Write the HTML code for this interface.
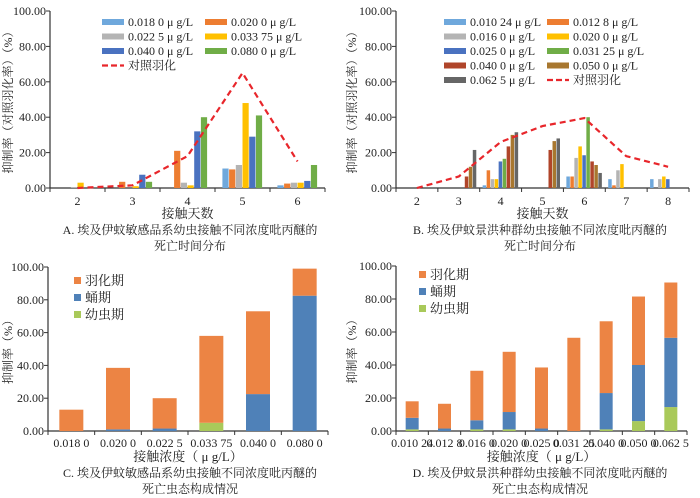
<!DOCTYPE html>
<html><head><meta charset="utf-8">
<style>
html,body{margin:0;padding:0;background:#fff;}
svg{display:block;font-family:"Liberation Serif","Noto Serif CJK SC",serif;}
</style></head>
<body>
<svg id="fig" width="700" height="498" viewBox="0 0 700 498" xmlns="http://www.w3.org/2000/svg"></svg>
<script>
// ---------- Panel A data ----------
const aDays = ["2","3","4","5","6"];
const aSeriesNames = ["0.018 0 μ g/L","0.020 0 μ g/L","0.022 5 μ g/L","0.033 75 μ g/L","0.040 0 μ g/L","0.080 0 μ g/L"];
const aS1 = [0,0,0,11,1.5];
const aS2 = [0,3.5,21,10.5,2.5];
const aS3 = [0.5,0,3,13,3];
const aS4 = [3,1,1.5,48,3];
const aS5 = [0,7.5,32,29,4];
const aS6 = [0,3.5,40,41,13];
const aControl = [0,1.5,18,65,15];
// ---------- Panel B data ----------
const bDays = ["2","3","4","5","6","7","8"];
const bSeriesNames = ["0.010 24 μ g/L","0.012 8 μ g/L","0.016 0 μ g/L","0.020 0 μ g/L","0.025 0 μ g/L","0.031 25 μ g/L","0.040 0 μ g/L","0.050 0 μ g/L","0.062 5 μ g/L"];
const bS1 = [0,0,1.5,0,6.5,5,5];
const bS2 = [0,0,10,0,6.5,1.5,0];
const bS3 = [0,0,5,0,17,10,5];
const bS4 = [0,0,5,0,23.5,13.5,6.5];
const bS5 = [0,0,15,0,18.5,0,5];
const bS6 = [0,0,16.5,0,40,0,0];
const bS7 = [0,6.5,23.5,21.5,15,0,0];
const bS8 = [0,12,30,26.5,13,0,0];
const bS9 = [0,21.5,31.5,28,8.5,0,0];
const bControl = [0,6.5,26,35,39.5,18,12];
// ---------- Panel C data ----------
const cCats = ["0.018 0","0.020 0","0.022 5","0.033 75","0.040 0","0.080 0"];
const cLarva = [0,0,0,5,0,0];
const cPupa = [0,1,1.5,0,22.5,82.5];
const cEclosion = [13,37.5,18.5,53,50.5,16.5];
// ---------- Panel D data ----------
const dCats = ["0.010 24","0.012 8","0.016 0","0.020 0","0.025 0","0.031 25","0.040 0","0.050 0","0.062 5"];
const dLarva = [1,0,1,1,0,0,1,6,14.5];
const dPupa = [7,1.5,5.5,10.5,1.5,0,22,34,42];
const dEclosion = [10,15,30,36.5,37,56.5,43.5,41.5,33.5];
const yTicks = ["0.00","20.00","40.00","60.00","80.00","100.00"];

const svg = document.getElementById('fig');
const NS = "http://www.w3.org/2000/svg";
function mk(tag, attrs, parent){
  const e = document.createElementNS(NS, tag);
  for (const k in attrs) e.setAttribute(k, attrs[k]);
  (parent||svg).appendChild(e);
  return e;
}
function txt(x,y,s,size,anchor,parent){
  const t = mk('text',{x:x,y:y,'font-size':size,'text-anchor':anchor||'middle',fill:'#222'},parent);
  t.textContent = s;
  return t;
}

function axes(g, x0, x1, yTop, yBot, nCats, catLabels, labelY, ylabel, ylabelX, xtitle, xtitleY, cap1, cap2, capX, capY){
  const ys = v => yBot - (yBot - yTop) * v / 100;
  mk('line',{x1:x0,y1:yTop,x2:x0,y2:yBot,stroke:'#333','stroke-width':1.2},g);
  mk('line',{x1:x0,y1:yBot,x2:x1,y2:yBot,stroke:'#333','stroke-width':1.2},g);
  yTicks.forEach((t,i)=>{
    const v = i*20;
    mk('line',{x1:x0-4,y1:ys(v),x2:x0,y2:ys(v),stroke:'#333'},g);
    const tl = txt(x0-4, ys(v)+4, t, 12, 'end', g);
    
    
  });
  const w = (x1-x0)/nCats;
  for (let i=0;i<=nCats;i++){
    mk('line',{x1:x0+i*w,y1:yBot,x2:x0+i*w,y2:yBot+4,stroke:'#333'},g);
  }
  catLabels.forEach((c,i)=>{
    const tl = txt(x0+w*(i+0.5), labelY, c, 12, 'middle', g);
    
    
  });
  const yt = txt(0,0,ylabel,12,'middle',g);
  yt.setAttribute('transform',`translate(${ylabelX},${(yTop+yBot)/2}) rotate(-90)`);
  
  
  const xt = txt((x0+x1)/2, xtitleY, xtitle, 13, 'middle', g);
  
  
  const c1 = txt(capX, capY, cap1, 12, 'middle', g);
  
  
  const c2 = txt(capX, capY+16, cap2, 12, 'middle', g);
  
  
  return {ys:ys, w:w};
}

function groupedPanel(name, x0,x1,yTop,yBot,cats,series,colors,barW,control,leg){
  const g = mk('g',{});
  
  
  const ax = axes(g,x0,x1,yTop,yBot,cats.length,cats,yBot+17,leg.ylabel,leg.ylabelX,'接触天数',yBot+30,leg.cap1,leg.cap2,leg.capX,yBot+46);
  const n = series.length;
  series.forEach((s,si)=>{
    s.forEach((v,ci)=>{
      if (v<=0) return;
      const cx = x0 + ax.w*(ci+0.5) - n*barW/2 + si*barW;
      const r = mk('rect',{x:cx,y:ax.ys(v),width:barW-0.5,height:ax.ys(0)-ax.ys(v),fill:colors[si]},g);
      
      
    });
  });
  const pts = control.map((v,i)=>`${x0+ax.w*(i+0.5)},${ax.ys(v)}`).join(' ');
  const pl = mk('polyline',{points:pts,fill:'none',stroke:'#e8262b','stroke-width':2.2,'stroke-dasharray':'6,4'},g);
  
  
  // legend
  const names = leg.names.concat(['对照羽化']);
  names.forEach((nm,i)=>{
    const col = i%2, row = Math.floor(i/2);
    const lx = leg.x + col*leg.colW, ly = leg.y + row*leg.rowH;
    if (i < leg.names.length){
      const sw = mk('rect',{x:lx,y:ly-4,width:22,height:6,fill:colors[i]},g);
      
      
    } else {
      const ln = mk('line',{x1:lx,y1:ly-1,x2:lx+22,y2:ly-1,stroke:'#e8262b','stroke-width':2.2,'stroke-dasharray':'6,3'},g);
      
      
    }
    const t = txt(lx+26, ly+3, nm, 12, 'start', g);
    
    
  });
}

function stackedPanel(name,x0,x1,yTop,yBot,cats,larva,pupa,ecl,barW,leg){
  const g = mk('g',{});
  
  
  const ax = axes(g,x0,x1,yTop,yBot,cats.length,cats,yBot+16,'抑制率（%）',leg.ylabelX,'接触浓度（ μ g/L）',yBot+30,leg.cap1,leg.cap2,leg.capX,yBot+46);
  const cols = ['#a9c95a','#4f81b8','#ec8444'];
  cats.forEach((c,i)=>{
    const cx = x0 + ax.w*(i+0.5) - barW/2;
    let base = 0;
    [larva[i],pupa[i],ecl[i]].forEach((v,k)=>{
      if (v>0){
        const r = mk('rect',{x:cx,y:ax.ys(base+v),width:barW,height:ax.ys(base)-ax.ys(base+v),fill:cols[k]},g);
        
        
      }
      base += v;
    });
  });
  ['羽化期','蛹期','幼虫期'].forEach((nm,k)=>{
    const ly = leg.y + k*17;
    const sw = mk('rect',{x:leg.x,y:ly-4,width:7,height:7,fill:cols[2-k]},g);
    
    
    const t = txt(leg.x+11, ly+4, nm, 13, 'start', g);
    
    
  });
}

groupedPanel('panel-a',50,325,11,188,aDays,[aS1,aS2,aS3,aS4,aS5,aS6],
  ['#6fa8dc','#ed7d31','#b4b4b4','#ffc000','#4a72c0','#70ad47'],6.7,aControl,
  {names:aSeriesNames,x:102,y:23,colW:103,rowH:14.5,ylabel:'抑制率（对照羽化率）（%）',ylabelX:12,
   cap1:'A. 埃及伊蚊敏感品系幼虫接触不同浓度吡丙醚的',cap2:'死亡时间分布',capX:190});
groupedPanel('panel-b',396,689,11,188,bDays,[bS1,bS2,bS3,bS4,bS5,bS6,bS7,bS8,bS9],
  ['#6fa8dc','#ed7d31','#b4b4b4','#ffc000','#4a72c0','#70ad47','#b0452a','#a8772f','#666666'],4,bControl,
  {names:bSeriesNames,x:444,y:23,colW:103,rowH:14.5,ylabel:'抑制率（对照羽化率）（%）',ylabelX:356,
   cap1:'B. 埃及伊蚊景洪种群幼虫接触不同浓度吡丙醚的',cap2:'死亡时间分布',capX:540});
stackedPanel('panel-c',48,328,267,431,cCats,cLarva,cPupa,cEclosion,24,
  {x:74,y:281,ylabelX:12,cap1:'C. 埃及伊蚊敏感品系幼虫接触不同浓度吡丙醚的',cap2:'死亡虫态构成情况',capX:190});
stackedPanel('panel-d',396,687,266,431,dCats,dLarva,dPupa,dEclosion,13,
  {x:419,y:275,ylabelX:356,cap1:'D. 埃及伊蚊景洪种群幼虫接触不同浓度吡丙醚的',cap2:'死亡虫态构成情况',capX:540});
</script>
</body></html>
